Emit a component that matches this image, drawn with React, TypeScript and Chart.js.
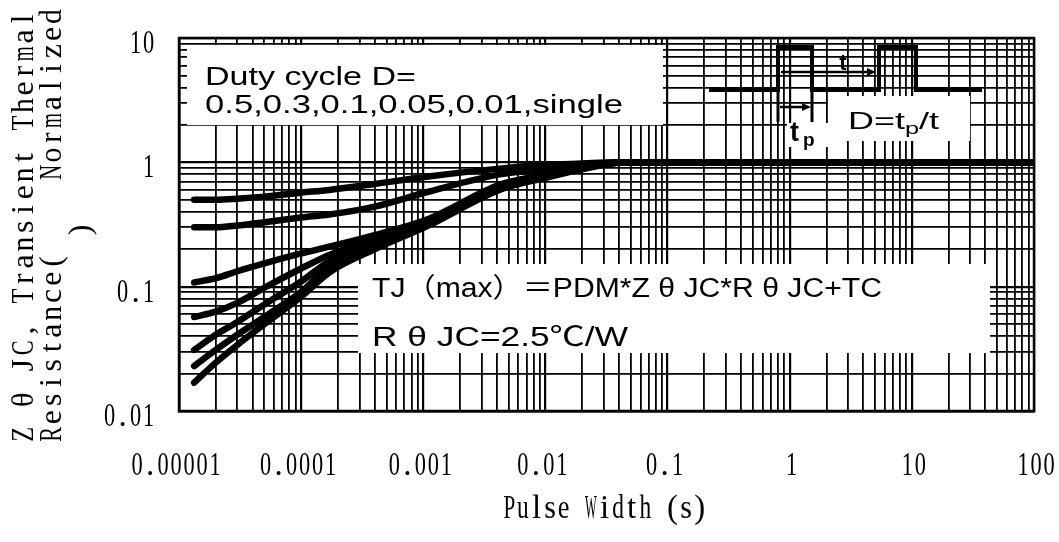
import React, { useEffect, useRef } from "react";
import { Chart, registerables } from "chart.js";

Chart.register(...registerables);

// ---- data ----
const pulseWidth = [1.33e-5, 2e-5, 3e-5, 5e-5, 1e-4, 1.7e-4, 4e-4, 1.1e-3, 4.2e-3, 1e-2, 2e-2, 4.5e-2, 100];
const dutyNames = ["D=0.5", "D=0.3", "D=0.1", "D=0.05", "D=0.02", "D=0.01", "single"];
const zD05 = [0.5, 0.5, 0.51, 0.53, 0.57, 0.6, 0.67, 0.77, 0.89, 0.95, 0.98, 1.0, 1.0];
const zD03 = [0.3, 0.3, 0.31, 0.33, 0.36, 0.38, 0.44, 0.58, 0.8, 0.88, 0.95, 1.0, 1.0];
const zD01 = [0.108, 0.117, 0.133, 0.154, 0.185, 0.21, 0.26, 0.35, 0.66, 0.8, 0.92, 1.0, 1.0];
const zD005 = [0.057, 0.063, 0.074, 0.098, 0.14, 0.18, 0.24, 0.34, 0.64, 0.78, 0.91, 1.0, 1.0];
const zD002 = [0.031, 0.041, 0.052, 0.072, 0.11, 0.16, 0.225, 0.33, 0.62, 0.77, 0.9, 1.0, 1.0];
const zD001 = [0.023, 0.031, 0.041, 0.057, 0.091, 0.145, 0.21, 0.32, 0.61, 0.76, 0.89, 1.0, 1.0];
const zSingle = [0.0169, 0.0245, 0.034, 0.05, 0.083, 0.13, 0.2, 0.31, 0.6, 0.75, 0.88, 1.0, 1.0];

const xDecades = [1e-5, 1e-4, 1e-3, 1e-2, 1e-1, 1, 10, 100];
const xTickLabels = ["0.00001", "0.0001", "0.001", "0.01", "0.1", "1", "10", "100"];
const yDecades = [0.01, 0.1, 1, 10];
const yTickLabels = ["0.01", "0.1", "1", "10"];
const minorSteps = [1, 2, 3, 4, 5, 6, 7, 8, 9];

const xTitle = "Pulse Width (s)";
const yTitleLine1 = "Z θ JC, Transient Thermal";
const yTitleLine2a = "Resistance(";
const yTitleLine2b = "Normalized";
const yTitleLine3 = ")";
const boxText1 = ["Duty cycle D=", "0.5,0.3,0.1,0.05,0.01,single"];
const boxText2 = ["TJ（max）＝PDM*Z θ JC*R θ JC+TC", "R θ JC=2.5℃/W"];

function gridValues(decades: number[]) {
  const out: number[] = [];
  decades.forEach((d, i) => {
    if (i === decades.length - 1) {
      out.push(d);
    } else {
      minorSteps.forEach((m) => out.push(d * m));
    }
  });
  return out;
}
const xGrid = gridValues(xDecades);
const yGrid = gridValues(yDecades);

function isDecade(v: number) {
  const l = Math.log10(v);
  return Math.abs(l - Math.round(l)) < 1e-6;
}

const SERIF = "'Liberation Serif', 'DejaVu Serif', serif";
const SANS = "'Liberation Sans', Arial, 'Noto Sans CJK SC', sans-serif";

// draw text as fixed-width cells, squeezing wide glyphs (half-width CJK font look)
function drawCells(ctx: CanvasRenderingContext2D, text: string, x0: number, baseline: number, cell: number, size: number) {
  ctx.font = `${size}px ${SERIF}`;
  ctx.textAlign = "center";
  ctx.textBaseline = "alphabetic";
  for (let i = 0; i < text.length; i++) {
    const ch = text[i];
    if (ch === " ") continue;
    const w = ctx.measureText(ch).width;
    const maxW = cell * 0.86;
    const sx = w > maxW ? maxW / w : 1;
    ctx.save();
    ctx.translate(x0 + cell * (i + 0.5), baseline);
    ctx.scale(sx, 1);
    ctx.fillText(ch, 0, 0);
    ctx.restore();
  }
}

function drawStretched(ctx: CanvasRenderingContext2D, text: string, left: number, baseline: number, targetW: number, font: string) {
  ctx.font = font;
  ctx.textAlign = "left";
  ctx.textBaseline = "alphabetic";
  const w = ctx.measureText(text).width;
  ctx.save();
  ctx.translate(left, baseline);
  ctx.scale(targetW / w, 1);
  ctx.fillText(text, 0, 0);
  ctx.restore();
}

function arrowRight(ctx: CanvasRenderingContext2D, x1: number, x2: number, y: number) {
  ctx.beginPath();
  ctx.moveTo(x1, y);
  ctx.lineTo(x2 - 6, y);
  ctx.stroke();
  ctx.beginPath();
  ctx.moveTo(x2, y);
  ctx.lineTo(x2 - 9, y - 4);
  ctx.lineTo(x2 - 9, y + 4);
  ctx.closePath();
  ctx.fill();
}

const decor = {
  id: "decor",
  beforeDatasetsDraw(chart: any) {
    const ctx: CanvasRenderingContext2D = chart.ctx;
    const a = chart.chartArea;
    ctx.save();
    ctx.strokeStyle = "#000";
    ctx.lineWidth = 2.5;
    ctx.strokeRect(a.left, a.top, a.right - a.left, a.bottom - a.top);

    // white annotation boxes
    ctx.fillStyle = "#fff";
    ctx.fillRect(187, 45, 476, 80);
    ctx.fillRect(358, 264, 632, 89);
    ctx.fillRect(828, 96, 142, 45);
    ctx.fillRect(787, 123, 41, 24);

    ctx.fillStyle = "#000";
    drawStretched(ctx, boxText1[0], 205, 85, 211, `25px ${SANS}`);
    drawStretched(ctx, boxText1[1], 205, 113, 418, `25px ${SANS}`);
    drawStretched(ctx, boxText2[0], 372, 297, 510, `27px ${SANS}`);
    drawStretched(ctx, boxText2[1], 372, 346, 256, `27px ${SANS}`);

    // pulse diagram
    ctx.strokeStyle = "#000";
    ctx.lineWidth = 4;
    ctx.lineJoin = "miter";
    ctx.beginPath();
    ctx.moveTo(709, 90);
    ctx.lineTo(778, 90);
    ctx.lineTo(778, 47);
    ctx.lineTo(812, 47);
    ctx.lineTo(812, 90);
    ctx.lineTo(879, 90);
    ctx.lineTo(879, 47);
    ctx.lineTo(916, 47);
    ctx.lineTo(916, 90);
    ctx.lineTo(982, 90);
    ctx.stroke();
    ctx.lineWidth = 3;
    ctx.beginPath();
    ctx.moveTo(778, 90);
    ctx.lineTo(778, 122);
    ctx.moveTo(812, 90);
    ctx.lineTo(812, 122);
    ctx.stroke();
    ctx.lineWidth = 2.5;
    arrowRight(ctx, 780, 811, 107);
    arrowRight(ctx, 781, 876, 72);

    ctx.font = `bold 22px ${SANS}`;
    ctx.textAlign = "center";
    ctx.fillText("t", 843, 70);
    ctx.font = `bold 27px ${SANS}`;
    ctx.textAlign = "left";
    ctx.fillText("t", 790, 141);
    ctx.font = `bold 19px ${SANS}`;
    ctx.fillText("p", 803, 146);

    // D=tp/t
    const big = `24px ${SANS}`;
    const small = `17px ${SANS}`;
    ctx.font = big;
    const w1 = ctx.measureText("D=t").width;
    const w3 = ctx.measureText("/t").width;
    ctx.font = small;
    const w2 = ctx.measureText("p").width;
    const sx = 91 / (w1 + w2 + w3);
    ctx.save();
    ctx.translate(848, 129);
    ctx.scale(sx, 1);
    ctx.font = big;
    ctx.fillText("D=t", 0, 0);
    ctx.font = small;
    ctx.fillText("p", w1, 5);
    ctx.font = big;
    ctx.fillText("/t", w1 + w2, 0);
    ctx.restore();
    ctx.restore();
  },
  afterDraw(chart: any) {
    const ctx: CanvasRenderingContext2D = chart.ctx;
    const xs = chart.scales.x;
    const ys = chart.scales.y;
    ctx.save();
    ctx.fillStyle = "#000";
    const cell = 13;
    xDecades.forEach((v, i) => {
      const t = xTickLabels[i];
      const px = xs.getPixelForValue(v) + (i > 4 ? 2 : -3);
      drawCells(ctx, t, px - (cell * t.length) / 2, 475, cell, 33);
    });
    yDecades.forEach((v, i) => {
      const t = yTickLabels[i];
      const py = ys.getPixelForValue(v);
      drawCells(ctx, t, 155 - cell * t.length, py + 15, cell, 33);
    });
    // x title
    const xc = (chart.chartArea.left + chart.chartArea.right) / 2 - 2;
    drawCells(ctx, xTitle, xc - (13.6 * xTitle.length) / 2, 518, 13.6, 33);

    // y title (rotated)
    const yc = 17.3;
    ctx.save();
    ctx.translate(33, 443);
    ctx.rotate(-Math.PI / 2);
    drawCells(ctx, yTitleLine1, 0, 0, yc, 32);
    ctx.restore();
    ctx.save();
    ctx.translate(61, 443);
    ctx.rotate(-Math.PI / 2);
    drawCells(ctx, yTitleLine2a, 0, 0, yc, 32);
    drawCells(ctx, yTitleLine2b, 435 - yc * yTitleLine2b.length, 0, yc, 32);
    ctx.restore();
    ctx.save();
    ctx.translate(90, 230);
    ctx.rotate(-Math.PI / 2);
    drawCells(ctx, yTitleLine3, -yc / 2, 0, yc, 32);
    ctx.restore();
    ctx.restore();
  },
};

export default function App() {
  const ref = useRef<HTMLCanvasElement | null>(null);
  useEffect(() => {
    if (!ref.current) return;
    const series = [zD05, zD03, zD01, zD005, zD002, zD001, zSingle];
    const chart = new Chart(ref.current, {
      type: "line",
      data: {
        datasets: series.map((s, i) => ({
          label: dutyNames[i],
          data: pulseWidth.map((x, j) => ({ x, y: s[j] })),
          borderColor: "#000",
          backgroundColor: "#000",
          borderWidth: 6.5,
          pointRadius: 0,
          borderCapStyle: "round",
          borderJoinStyle: "round",
          cubicInterpolationMode: "monotone",
          fill: false,
        })),
      },
      options: {
        responsive: true,
        maintainAspectRatio: false,
        animation: false,
        layout: { padding: { left: 179, top: 38, right: 25, bottom: 131 } },
        plugins: { legend: { display: false }, tooltip: { enabled: false }, title: { display: false } },
        scales: {
          x: {
            type: "logarithmic",
            min: 1e-5,
            max: 100,
            afterBuildTicks: (axis: any) => {
              axis.ticks = xGrid.map((v) => ({ value: v }));
            },
            ticks: { display: false },
            grid: {
              color: "#000",
              lineWidth: (c: any) => (c.tick && isDecade(c.tick.value) ? 2.2 : 1.8),
              drawTicks: false,
            },
            border: { display: true, color: "#000", width: 2.5 },
          },
          y: {
            type: "logarithmic",
            min: 0.01,
            max: 10,
            afterBuildTicks: (axis: any) => {
              axis.ticks = yGrid.map((v) => ({ value: v }));
            },
            ticks: { display: false },
            grid: {
              color: "#000",
              lineWidth: (c: any) => (c.tick && isDecade(c.tick.value) ? 2.2 : 1.8),
              drawTicks: false,
            },
            border: { display: true, color: "#000", width: 2.5 },
          },
        },
      } as any,
      plugins: [decor],
    });
    return () => chart.destroy();
  }, []);
  return (
    <div style={{ position: "fixed", left: 0, top: 0, width: 1059, height: 542, background: "#fff" }}>
      <canvas ref={ref} />
    </div>
  );
}
